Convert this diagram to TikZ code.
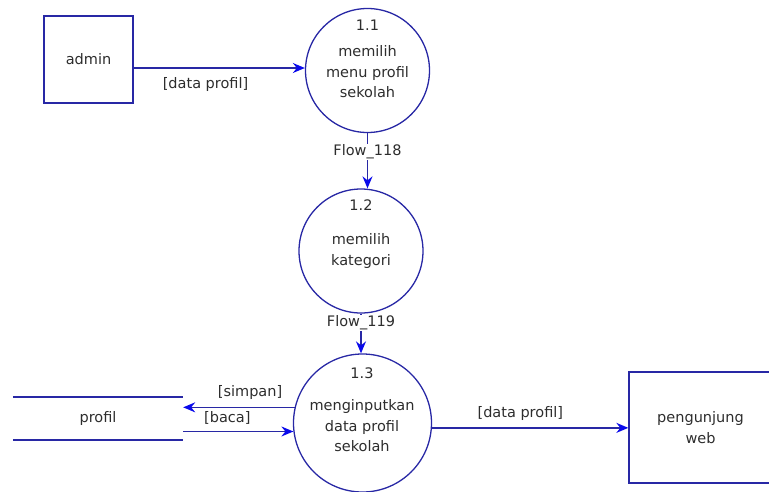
\documentclass[tikz,border=0pt]{standalone}
\usepackage{fontspec}
\setmainfont{DejaVu Sans}
\usetikzlibrary{arrows.meta}
\definecolor{dfdline}{RGB}{40,40,165}
\definecolor{dfdhead}{RGB}{10,10,235}
\definecolor{dfdtext}{RGB}{45,45,45}
\tikzset{
  proc/.style={circle, draw=dfdline, line width=1.3pt, inner sep=0pt},
  ent/.style={rectangle, draw=dfdline, line width=1.3pt},
  lbl/.style={text=dfdtext, font=\fontsize{14.5}{20.5}\selectfont, align=center, inner sep=1pt},
  flow/.style={draw=dfdline, line width=1.5pt, -{Stealth[length=12pt, width=10pt, inset=4pt, color=dfdhead]}},
}
\begin{document}
\begin{tikzpicture}[x=1pt, y=-1pt]
\useasboundingbox (0,0) rectangle (769,491);
\node[ent, lbl, minimum width=89pt, minimum height=87pt] (admin) at (88.5,59.5) {admin};
\node[ent, lbl, minimum width=143pt, minimum height=111pt] (web) at (700.5,427.5) {pengunjung\\web};
\node[lbl, minimum width=170pt, minimum height=43pt] (store) at (98,418.5) {profil};
\draw[dfdline, line width=1.5pt] (store.north west) -- (store.north east)
  (store.south west) -- (store.south east);

\node[proc, minimum size=124pt] (p11) at (367.5,70.5) {};
\node[lbl] (p11num) at (367.5,25) {1.1};
\node[lbl] (p11txt) at (367.5,72) {memilih\\menu profil\\sekolah};
\node[proc, minimum size=124pt] (p12) at (361,251) {};
\node[lbl] (p12num) at (361,205) {1.2};
\node[lbl] (p12txt) at (361,251) {memilih\\kategori};
\node[proc, minimum size=138pt] (p13) at (362.5,423) {};
\node[lbl] (p13num) at (362,373) {1.3};
\node[lbl] (p13txt) at (362,426) {menginputkan\\data profil\\sekolah};

\draw[flow] (admin.east |- 0,68) -- (p11.west |- 0,68) node[lbl, pos=0.42, below=8pt] {[data profil]};
\draw[flow] (p11.south) -- (p11.south |- p12.north) node[lbl, pos=0.34, fill=white] {Flow\_118};
\draw[flow] (p12.south) -- (p12.south |- p13.north) node[lbl, pos=0.24, fill=white] {Flow\_119};
\draw[flow] (p13.167) -- (store.east |- p13.167) node[lbl, pos=0.4, above=6pt] {[simpan]};
\draw[flow] (store.east |- p13.187) -- (p13.187) node[lbl, pos=0.4, above=5pt] {[baca]};
\draw[flow] (p13.-4) -- (web.west |- p13.-4) node[lbl, pos=0.45, above=6pt] {[data profil]};
\end{tikzpicture}
\end{document}
